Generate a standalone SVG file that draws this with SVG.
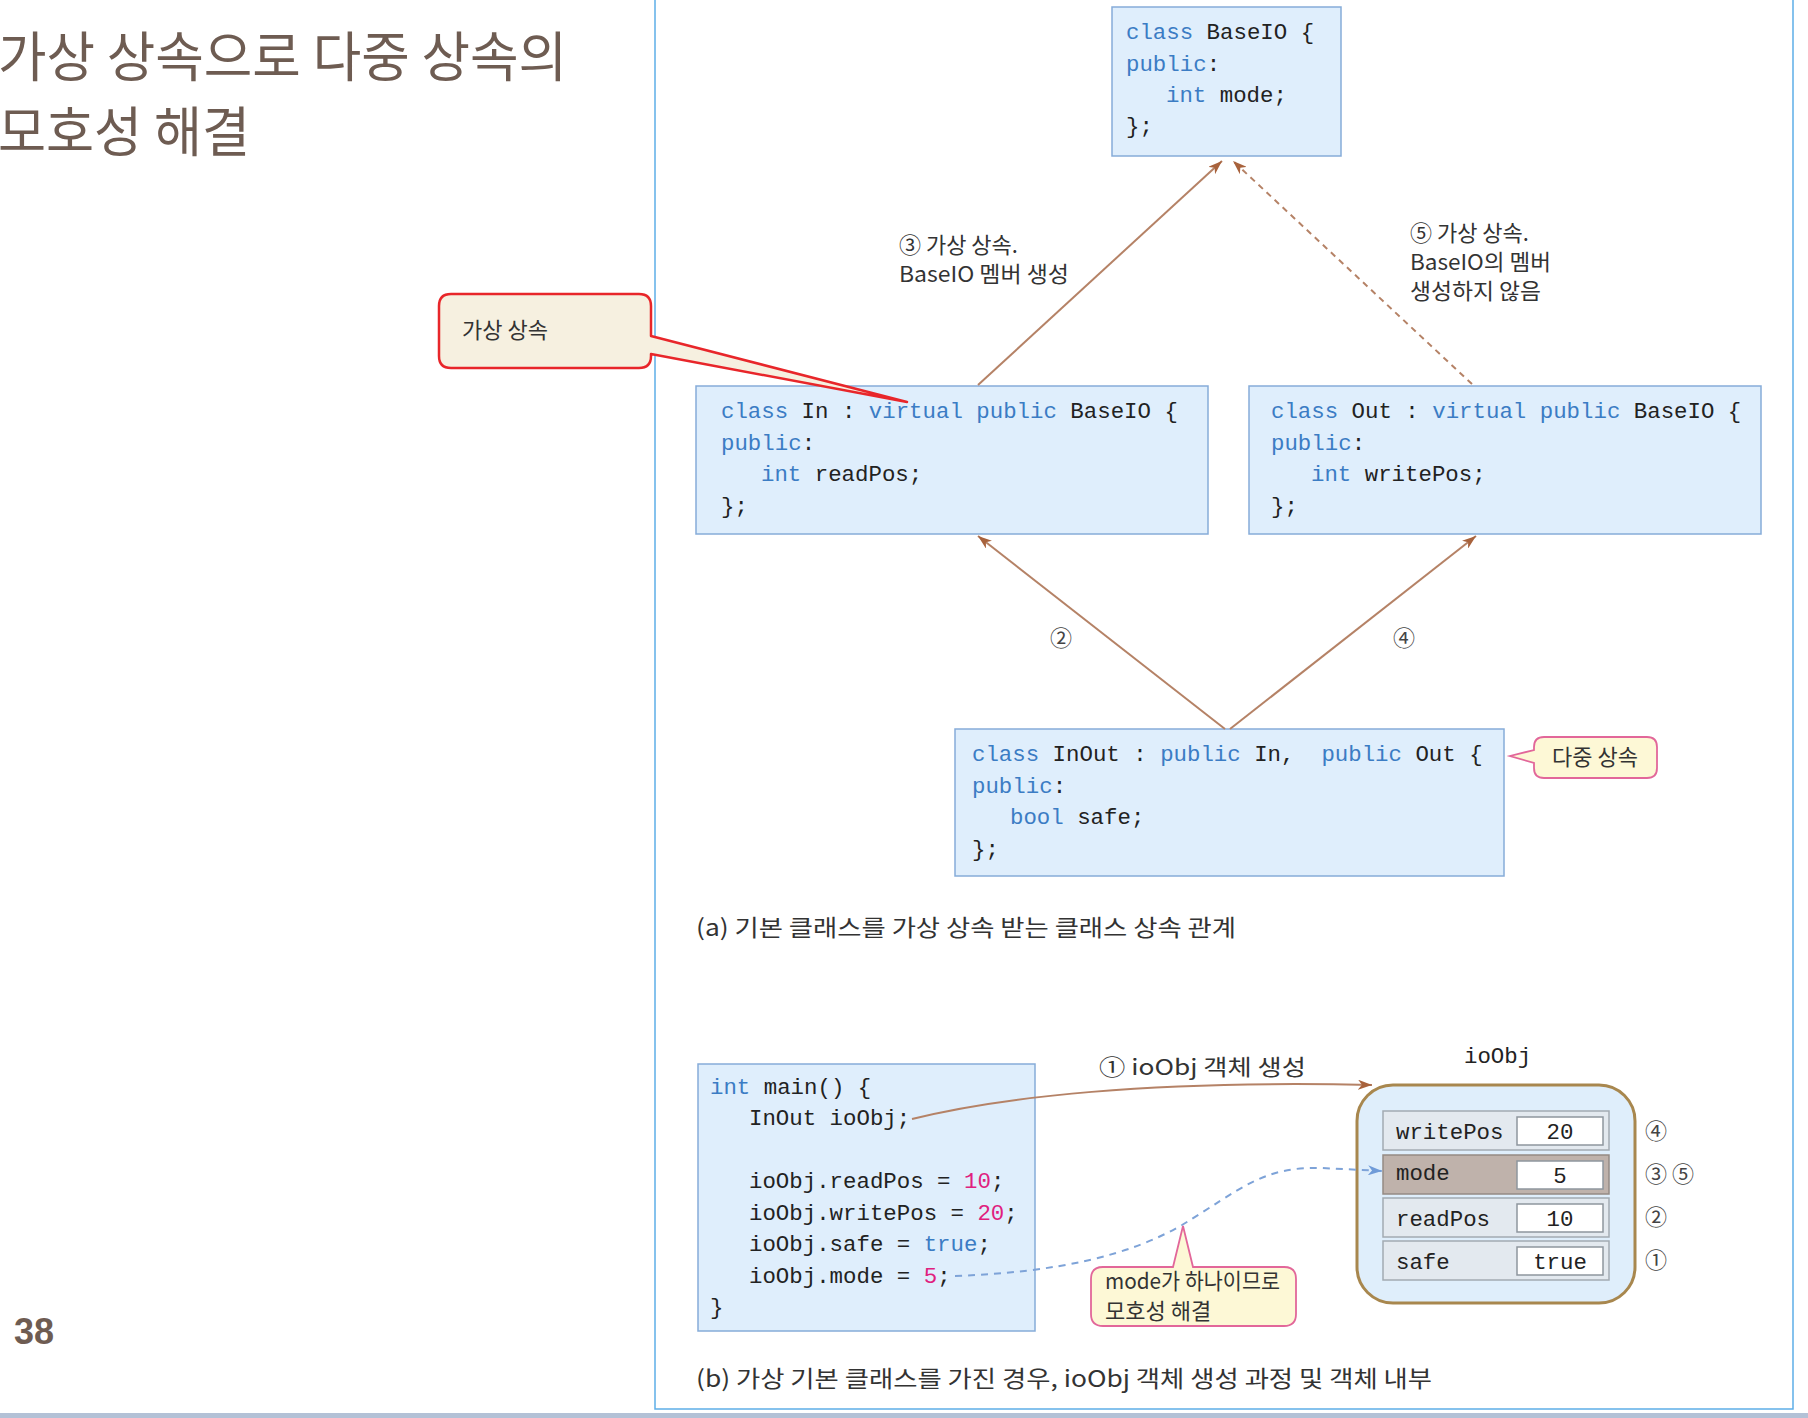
<svg xmlns="http://www.w3.org/2000/svg" width="1808" height="1418" viewBox="0 0 1808 1418">
<style>
.code{font-family:"Liberation Mono","DejaVu Sans Mono",monospace;font-size:22.4px;fill:#222}
.k{fill:#3b7cc4}
.n{fill:#e0207e}
.box{fill:#dfeefc;stroke:#86acd9;stroke-width:1.5}
.lbl{font-family:"Noto Sans CJK KR","Noto Sans",sans-serif;font-size:22px;fill:#333}
.cap{font-family:"Noto Sans CJK KR","Noto Sans",sans-serif;font-size:23px;fill:#333}
.title{font-family:"Noto Sans CJK KR","Noto Sans",sans-serif;font-size:54px;fill:#6e5c52}
.frame{stroke:#5eaee8;stroke-width:1.5;fill:none}
.br{stroke:#b58266;stroke-width:2;fill:none}
.row{fill:#e3e9ef;stroke:#a3aab2;stroke-width:1.5}
.val{fill:#fff;stroke:#8e969e;stroke-width:1.5}
.num{font-family:"Noto Sans CJK KR","Noto Sans",sans-serif;font-size:22px;fill:#444}
</style>
<defs>
<marker id="ab" viewBox="0 0 14 10" refX="14" refY="5" markerWidth="14" markerHeight="10" markerUnits="userSpaceOnUse" orient="auto">
<path d="M0,0 L14,5 L0,10 L4,5 Z" fill="#a8623c"/>
</marker>
<marker id="abl" viewBox="0 0 14 10" refX="14" refY="5" markerWidth="14" markerHeight="10" markerUnits="userSpaceOnUse" orient="auto">
<path d="M0,0 L14,5 L0,10 L4,5 Z" fill="#6f9bd8"/>
</marker>
</defs>
<rect x="0" y="0" width="1808" height="1418" fill="#fff"/>

<g id="page">
<text class="title" x="-2" y="77" textLength="569" lengthAdjust="spacingAndGlyphs">가상 상속으로 다중 상속의</text>
<text class="title" x="-2" y="152" textLength="252" lengthAdjust="spacingAndGlyphs">모호성 해결</text>
<text x="14" y="1344" font-family="Liberation Sans,Arial,sans-serif" font-weight="bold" font-size="36" fill="#6e5c52">38</text>
<path class="frame" d="M655,0 V1409 H1793 V0"/>
<rect x="0" y="1413" width="1808" height="5" fill="#b3c1d6"/>
</g>

<g id="label-3">
<text class="lbl" x="899" y="253">③ 가상 상속.</text>
<text class="lbl" x="899" y="282" textLength="170" lengthAdjust="spacingAndGlyphs">BaseIO 멤버 생성</text>
</g>
<g id="label-5">
<text class="lbl" x="1410" y="241">⑤ 가상 상속.</text>
<text class="lbl" x="1410" y="270" textLength="141" lengthAdjust="spacingAndGlyphs">BaseIO의 멤버</text>
<text class="lbl" x="1410" y="299" textLength="131" lengthAdjust="spacingAndGlyphs">생성하지 않음</text>
</g>
<text class="num" x="1050" y="646">②</text>
<text class="num" x="1393" y="646">④</text>

<g id="BaseIO">
<rect class="box" x="1112" y="7" width="229" height="149"/>
<text class="code" x="1126" y="39"><tspan class="k">class</tspan> BaseIO {</text>
<text class="code" x="1126" y="71"><tspan class="k">public</tspan>:</text>
<text class="code" x="1166" y="102"><tspan class="k">int</tspan> mode;</text>
<text class="code" x="1126" y="133">};</text>
</g>

<g id="In">
<rect class="box" x="696" y="386" width="512" height="148"/>
<text class="code" x="721" y="418" xml:space="preserve"><tspan class="k">class</tspan> In : <tspan class="k">virtual public</tspan> BaseIO {</text>
<text class="code" x="721" y="450"><tspan class="k">public</tspan>:</text>
<text class="code" x="761" y="481"><tspan class="k">int</tspan> readPos;</text>
<text class="code" x="721" y="513">};</text>
</g>

<g id="Out">
<rect class="box" x="1249" y="386" width="512" height="148"/>
<text class="code" x="1271" y="418" xml:space="preserve"><tspan class="k">class</tspan> Out : <tspan class="k">virtual public</tspan> BaseIO {</text>
<text class="code" x="1271" y="450"><tspan class="k">public</tspan>:</text>
<text class="code" x="1311" y="481"><tspan class="k">int</tspan> writePos;</text>
<text class="code" x="1271" y="513">};</text>
</g>

<g id="InOut">
<rect class="box" x="955" y="729" width="549" height="147"/>
<text class="code" x="972" y="761" xml:space="preserve"><tspan class="k">class</tspan> InOut : <tspan class="k">public</tspan> In,  <tspan class="k">public</tspan> Out {</text>
<text class="code" x="972" y="793"><tspan class="k">public</tspan>:</text>
<text class="code" x="1010" y="824"><tspan class="k">bool</tspan> safe;</text>
<text class="code" x="972" y="856">};</text>
</g>

<text class="cap" x="696" y="936" textLength="540" lengthAdjust="spacingAndGlyphs">(a) 기본 클래스를 가상 상속 받는 클래스 상속 관계</text>

<g id="main">
<rect class="box" x="698" y="1064" width="337" height="267"/>
<text class="code" x="710" y="1094"><tspan class="k">int</tspan> main() {</text>
<text class="code" x="749" y="1125">InOut ioObj;</text>
<text class="code" x="749" y="1188">ioObj.readPos = <tspan class="n">10</tspan>;</text>
<text class="code" x="749" y="1220">ioObj.writePos = <tspan class="n">20</tspan>;</text>
<text class="code" x="749" y="1251">ioObj.safe = <tspan class="k">true</tspan>;</text>
<text class="code" x="749" y="1283">ioObj.mode = <tspan class="n">5</tspan>;</text>
<text class="code" x="710" y="1314">}</text>
</g>

<text class="lbl" x="1099" y="1075" textLength="207" lengthAdjust="spacingAndGlyphs">① ioObj 객체 생성</text>

<g id="ioObj">
<text class="code" x="1464" y="1063">ioObj</text>
<rect x="1357" y="1085" width="278" height="218" rx="36" fill="#dfeefb" stroke="#a8874e" stroke-width="3"/>
<rect class="row" x="1383" y="1111" width="226" height="39"/>
<rect class="val" x="1517" y="1117" width="86" height="28"/>
<text class="code" x="1396" y="1139">writePos</text>
<text class="code" x="1560" y="1139" text-anchor="middle">20</text>
<rect x="1383" y="1155" width="226" height="39" fill="#bfb2ab" stroke="#958a84" stroke-width="1.5"/>
<rect class="val" x="1517" y="1161" width="86" height="28"/>
<text class="code" x="1396" y="1180">mode</text>
<text class="code" x="1560" y="1183" text-anchor="middle" fill="#e8303c">5</text>
<rect class="row" x="1383" y="1198" width="226" height="39"/>
<rect class="val" x="1517" y="1204" width="86" height="28"/>
<text class="code" x="1396" y="1226">readPos</text>
<text class="code" x="1560" y="1226" text-anchor="middle">10</text>
<rect class="row" x="1383" y="1241" width="226" height="39"/>
<rect class="val" x="1517" y="1247" width="86" height="28"/>
<text class="code" x="1396" y="1269">safe</text>
<text class="code" x="1560" y="1269" text-anchor="middle">true</text>
</g>
<text class="num" x="1645" y="1139">④</text>
<text class="num" x="1645" y="1182">③ ⑤</text>
<text class="num" x="1645" y="1225">②</text>
<text class="num" x="1645" y="1268">①</text>

<g id="connectors">
<path class="br" d="M978,385 L1222,161" marker-end="url(#ab)"/>
<path class="br" d="M1472,384 L1233,161" stroke-dasharray="6,5" marker-end="url(#ab)"/>
<path class="br" d="M1225,729 L978,536" marker-end="url(#ab)"/>
<path class="br" d="M1230,729 L1476,536" marker-end="url(#ab)"/>
<path class="br" d="M912,1119 C1000,1097 1150,1080 1372,1085" marker-end="url(#ab)"/>
<path d="M955,1276 C1060,1272 1130,1255 1182,1225 C1240,1190 1262,1166 1322,1168 L1382,1171" fill="none" stroke="#7ea3d8" stroke-width="2" stroke-dasharray="7,6" marker-end="url(#abl)"/>
</g>

<g id="callout-virtual">
<path d="M451,294 H639 Q651,294 651,306 V336 L907,402 L651,354 V356 Q651,368 639,368 H451 Q439,368 439,356 V306 Q439,294 451,294 Z" fill="#f6f0e0" stroke="#e8262a" stroke-width="2.5" stroke-linejoin="round"/>
<text class="lbl" x="462" y="338" font-size="21">가상 상속</text>
</g>

<g id="callout-multi">
<path d="M1544,737 H1647 Q1657,737 1657,747 V768 Q1657,778 1647,778 H1544 Q1534,778 1534,768 V763 L1510,756 L1534,750 V747 Q1534,737 1544,737 Z" fill="#fdf8d6" stroke="#e2679a" stroke-width="1.8"/>
<text class="lbl" x="1595" y="765" text-anchor="middle" font-size="21">다중 상속</text>
</g>

<g id="callout-mode">
<path d="M1103,1267 H1173 L1183,1226 L1193,1267 H1284 Q1296,1267 1296,1279 V1314 Q1296,1326 1284,1326 H1103 Q1091,1326 1091,1314 V1279 Q1091,1267 1103,1267 Z" fill="#fdf8d6" stroke="#e2679a" stroke-width="1.8"/>
<text class="lbl" x="1105" y="1289" font-size="19" textLength="175" lengthAdjust="spacingAndGlyphs">mode가 하나이므로</text>
<text class="lbl" x="1105" y="1319" font-size="19">모호성 해결</text>
</g>

<text class="cap" x="696" y="1387" textLength="736" lengthAdjust="spacingAndGlyphs">(b) 가상 기본 클래스를 가진 경우, ioObj 객체 생성 과정 및 객체 내부</text>
</svg>
